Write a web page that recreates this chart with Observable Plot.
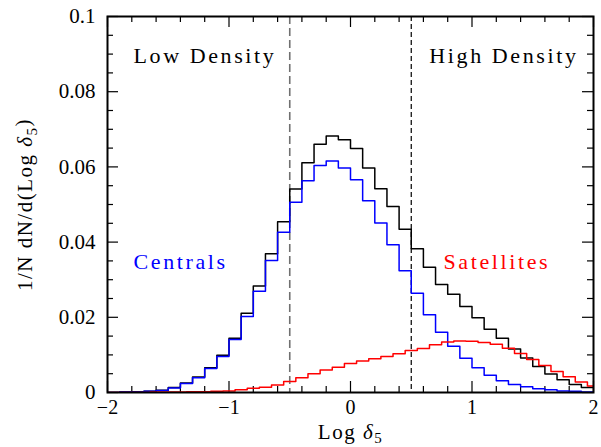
<!DOCTYPE html>
<html>
<head>
<meta charset="utf-8">
<script src="https://cdn.jsdelivr.net/npm/d3@7"></script>
<script src="https://cdn.jsdelivr.net/npm/@observablehq/plot@0.6"></script>
<style>
  html, body { margin: 0; padding: 0; background: #fff; }
  .ann text { letter-spacing: 2.6px; }
  .lab text { letter-spacing: 1.5px; }
</style>
</head>
<body>
<div id="chart"></div>
<script>
// ---- data ----
const binWidth = 0.1;
const allStart = -2.0;          // left edge of first bin (black & blue)
const satStart = -2.05;         // satellites histogram bins are offset by half a bin

const allGalaxies = [
  0.0000, 0.0001, 0.0002, 0.0003, 0.0006, 0.0013, 0.0025, 0.0041, 0.0066, 0.0099,
  0.0144, 0.0211, 0.0283, 0.0369, 0.0454, 0.0541, 0.0611, 0.0660, 0.0682, 0.0672,
  0.0649, 0.0597, 0.0542, 0.0495, 0.0434, 0.0382, 0.0333, 0.0287, 0.0261, 0.0229,
  0.0199, 0.0168, 0.0144, 0.0116, 0.0092, 0.0069, 0.0049, 0.0034, 0.0021, 0.0013
];
const centrals = [
  0.0000, 0.0001, 0.0001, 0.0003, 0.0005, 0.0012, 0.0024, 0.0039, 0.0064, 0.0096,
  0.0141, 0.0202, 0.0269, 0.0351, 0.0426, 0.0506, 0.0563, 0.0604, 0.0616, 0.0597,
  0.0566, 0.0510, 0.0451, 0.0393, 0.0324, 0.0264, 0.0207, 0.0160, 0.0123, 0.0091,
  0.0066, 0.0046, 0.0031, 0.0021, 0.0015, 0.0010, 0.0007, 0.0004, 0.0003, 0.0001
];
const satellites = [
  0.0000, 0.0000, 0.0000, 0.0000, 0.0001, 0.0001, 0.0001, 0.0002, 0.0002, 0.0003,
  0.0004, 0.0007, 0.0011, 0.0014, 0.0020, 0.0029, 0.0039, 0.0050, 0.0060, 0.0067,
  0.0077, 0.0084, 0.0090, 0.0096, 0.0103, 0.0112, 0.0117, 0.0127, 0.0134, 0.0137,
  0.0136, 0.0133, 0.0128, 0.0118, 0.0104, 0.0088, 0.0072, 0.0056, 0.0042, 0.0028,
  0.0017
];

const densityCuts = [-0.5, 0.5];
const xMajorTicks = [-2, -1, 0, 1, 2];
const xMinorTicks = [-1.8, -1.6, -1.4, -1.2, -0.8, -0.6, -0.4, -0.2, 0.2, 0.4, 0.6, 0.8, 1.2, 1.4, 1.6, 1.8];
const yMajorTicks = [0, 0.02, 0.04, 0.06, 0.08, 0.1];
const yTickLabels = ["0", "0.02", "0.04", "0.06", "0.08", "0.1"];
const yMinorTicks = [0.005, 0.01, 0.015, 0.025, 0.03, 0.035, 0.045, 0.05, 0.055, 0.065, 0.07, 0.075, 0.085, 0.09, 0.095];

// ---- build step outlines from the bins ----
function steps(values, start, width) {
  const pts = [];
  values.forEach((v, i) => {
    pts.push({x: start + i * width, y: v});
    pts.push({x: start + (i + 1) * width, y: v});
  });
  return pts;
}

const W = 601, H = 447, mT = 16, mR = 8, mB = 55, mL = 107;
const innerH = H - mT - mB, innerW = W - mL - mR;
const majorLen = 11, minorLen = 6;
const font = "Liberation Serif";

const chart = Plot.plot({
  width: W, height: H,
  marginTop: mT, marginRight: mR, marginBottom: mB, marginLeft: mL,
  style: {fontFamily: font, fontSize: "21px", background: "#fff", color: "#000"},
  x: {domain: [-2, 2]},
  y: {domain: [0, 0.1]},
  marks: [
    // inward ticks on all four sides
    Plot.tickX(xMajorTicks, {x: d => d, insetTop: innerH - majorLen, stroke: "#000", strokeWidth: 1.2}),
    Plot.tickX(xMajorTicks, {x: d => d, insetBottom: innerH - majorLen, stroke: "#000", strokeWidth: 1.2}),
    Plot.tickX(xMinorTicks, {x: d => d, insetTop: innerH - minorLen, stroke: "#000", strokeWidth: 1.2}),
    Plot.tickX(xMinorTicks, {x: d => d, insetBottom: innerH - minorLen, stroke: "#000", strokeWidth: 1.2}),
    Plot.tickY(yMajorTicks, {y: d => d, insetRight: innerW - majorLen, stroke: "#000", strokeWidth: 1.2}),
    Plot.tickY(yMajorTicks, {y: d => d, insetLeft: innerW - majorLen, stroke: "#000", strokeWidth: 1.2}),
    Plot.tickY(yMinorTicks, {y: d => d, insetRight: innerW - minorLen, stroke: "#000", strokeWidth: 1.2}),
    Plot.tickY(yMinorTicks, {y: d => d, insetLeft: innerW - minorLen, stroke: "#000", strokeWidth: 1.2}),
    // tick labels
    Plot.axisX({ticks: xMajorTicks, tickSize: 0, tickPadding: 7, fontSize: 20,
      tickFormat: d => d < 0 ? "\u2212" + Math.abs(d) : String(d), label: null}),
    Plot.axisY({ticks: yMajorTicks, tickSize: 0, tickPadding: 12, fontSize: 21,
      tickFormat: d => yTickLabels[yMajorTicks.indexOf(d)] ?? "", label: null}),
    // density cuts
    Plot.ruleX([densityCuts[0]], {stroke: "#707070", strokeWidth: 1.6, strokeDasharray: "8,4"}),
    Plot.ruleX([densityCuts[1]], {stroke: "#000", strokeWidth: 1.2, strokeDasharray: "5,3"}),
    // histograms
    Plot.line(steps(allGalaxies, allStart, binWidth), {x: "x", y: "y", stroke: "#000", strokeWidth: 1.5, clip: true}),
    Plot.line(steps(centrals, allStart, binWidth), {x: "x", y: "y", stroke: "#0000ff", strokeWidth: 1.5, clip: true}),
    Plot.line(steps(satellites, satStart, binWidth), {x: "x", y: "y", stroke: "#ff0000", strokeWidth: 1.5, clip: true}),
    // annotations
    Plot.text(["Low Density"], {frameAnchor: "top-left", dx: 26, dy: 31, textAnchor: "start", fontSize: 22, fill: "#000", className: "ann"}),
    Plot.text(["High Density"], {frameAnchor: "top-right", dx: -15, dy: 31, textAnchor: "end", fontSize: 22, fill: "#000", className: "ann"}),
    Plot.text(["Centrals"], {frameAnchor: "top-left", dx: 26, dy: 237, textAnchor: "start", fontSize: 22, fill: "#0000ff", className: "ann"}),
    Plot.text(["Satellites"], {frameAnchor: "top-left", dx: 336, dy: 237, textAnchor: "start", fontSize: 22, fill: "#ff0000", className: "ann"}),
    // axis titles
    Plot.text(["Log δ5"], {frameAnchor: "bottom", dy: 46, textAnchor: "middle", fontSize: 21, fill: "#000", className: "lab xlab"}),
    Plot.text(["1/N dN/d(Log δ5)"], {frameAnchor: "left", dx: -82, rotate: -90, textAnchor: "middle", fontSize: 21, fill: "#000", className: "lab ylab"}),
    Plot.frame({stroke: "#000", strokeWidth: 2})
  ]
});

document.getElementById("chart").appendChild(chart);

// subscripts and italic delta in the axis titles
function richLabel(sel, prefix, suffix) {
  d3.select(chart).selectAll(sel + " text").each(function() {
    const t = d3.select(this);
    t.text(null);
    t.append("tspan").text(prefix);
    t.append("tspan").attr("font-style", "italic").text("δ");
    t.append("tspan").attr("font-size", "15px").attr("dy", "0.3em").text("5");
    if (suffix) t.append("tspan").attr("dy", "-0.3em").text(suffix);
  });
}
richLabel(".xlab", "Log ", "");
richLabel(".ylab", "1/N dN/d(Log ", ")");
</script>
</body>
</html>
